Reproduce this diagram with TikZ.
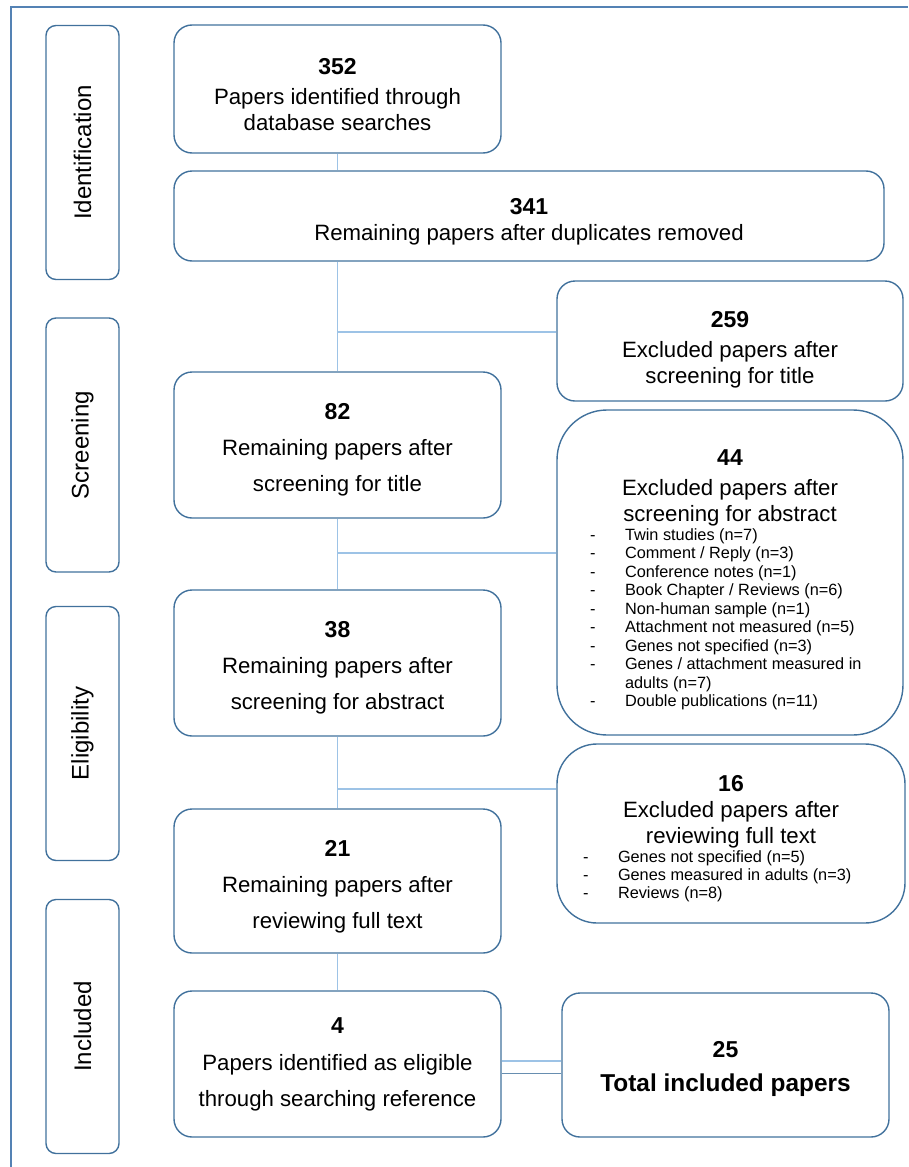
\documentclass[tikz,border=0pt]{standalone}
\usepackage{fontspec}
\setmainfont{Liberation Sans}
\usetikzlibrary{calc}
\definecolor{boxblue}{RGB}{65,113,156}
\definecolor{linkblue}{RGB}{157,195,230}
\definecolor{frameblue}{RGB}{84,130,180}
\newcommand\cnt[2][27pt]{{\rule{0pt}{#1}\fontsize{23}{26}\selectfont\bfseries #2}}
\newcommand\listfont{\fontsize{16.3}{18.45}\selectfont}

\begin{document}
\begin{tikzpicture}[x=1pt,y=-1pt,
    box/.style={rectangle,draw=boxblue,line width=1.4pt,rounded corners=18pt,
      align=center,inner sep=0pt,minimum width=327pt,
      font=\fontsize{22.2}{26}\selectfont},
    stage/.style={rectangle,draw=boxblue,line width=1.4pt,rounded corners=10pt,
      minimum width=73pt,minimum height=254pt,inner sep=0pt,
      font=\fontsize{24}{28}\selectfont},
    link/.style={draw=linkblue,line width=1.2pt}]

  \useasboundingbox (0,0) rectangle (908,1167);
  \draw[frameblue,line width=2pt] (11,1167) -- (11,7) -- (908,7);

  % stages
  \node[stage] (ident) at (82.5,152.5) {\rotatebox{90}{Identification}};
  \node[stage] (screen) at (82.5,445) {\rotatebox{90}{Screening}};
  \node[stage] (elig) at (82.5,733.5) {\rotatebox{90}{Eligibility}};
  \node[stage] (incl) at (82.5,1026.5) {\rotatebox{90}{Included}};

  % main column
  \node[box,minimum height=128pt] (352) at (337.5,89)
    {\cnt{352}\\[4pt]Papers identified through\\database searches};
  \node[box,minimum width=710pt,minimum height=90pt] (341) at (529,216)
    {\cnt{341}\\Remaining papers after duplicates removed};
  \node[box,minimum height=146pt] (82) at (337.5,445)
    {\cnt[25pt]{82}\\[10pt]Remaining papers after\\[10pt]screening for title};
  \node[box,minimum height=146pt] (38) at (337.5,663)
    {\cnt[25pt]{38}\\[10pt]Remaining papers after\\[10pt]screening for abstract};
  \node[box,minimum height=144pt] (21) at (337.5,881)
    {\cnt{21}\\[10pt]Remaining papers after\\[10pt]reviewing full text};
  \node[box,minimum height=146pt] (4) at (337.5,1064)
    {\cnt[16pt]{4}\\[11pt]Papers identified as eligible\\[10pt]through searching reference};

  % exclusions
  \node[box,minimum width=346pt,minimum height=120pt] (259) at (730,341)
    {\cnt[33pt]{259}\\[4pt]Excluded papers after\\screening for title};
  \node[box,minimum width=346pt,minimum height=325pt,rounded corners=50pt] (44) at (730,572.5)
    {\cnt[33pt]{44}\\[4pt]Excluded papers after\\screening for abstract\\
     {\listfont\begin{tabular}{@{}p{35pt}@{}p{245pt}@{}}
       - & Twin studies (n=7)\\
       - & Comment / Reply (n=3)\\
       - & Conference notes (n=1)\\
       - & Book Chapter / Reviews (n=6)\\
       - & Non-human sample (n=1)\\
       - & Attachment not measured (n=5)\\
       - & Genes not specified (n=3)\\
       - & Genes / attachment measured in\\
         & adults (n=7)\\
       - & Double publications (n=11)
     \end{tabular}}};
  \node[box,minimum width=348pt,minimum height=179pt,rounded corners=40pt] (16) at (731,833.5)
    {\cnt[29pt]{16}\\Excluded papers after\\reviewing full text\\
     {\listfont\begin{tabular}{@{}p{35pt}@{}p{261pt}@{}}
       - & Genes not specified (n=5)\\
       - & Genes measured in adults (n=3)\\
       - & Reviews (n=8)
     \end{tabular}}};
  \node[box,minimum height=144pt] (25) at (725.5,1065)
    {\cnt[25pt]{25}\\[8pt]{\fontsize{24.4}{28}\selectfont\bfseries Total included papers}};

  % links
  \coordinate (b259) at (338,332);
  \coordinate (b44) at (338,553);
  \coordinate (b16) at (338,789);
  \draw[link] (352.south) -- (352.south |- 341.north);
  \draw[link] (341.south -| 82.north) -- (82.north);
  \draw[link] (82.south) -- (38.north);
  \draw[link] (38.south) -- (21.north);
  \draw[link] (21.south) -- (4.north);
  \draw[link] (b259) -- (b259 -| 259.west);
  \draw[link] (b44) -- (b44 -| 44.west);
  \draw[link] (b16) -- (b16 -| 16.west);
  \draw[link] ([yshift=3pt]4.east) -- ([yshift=3pt]4.east -| 25.west);
  \draw[boxblue!80,line width=1pt] ([yshift=-9pt]4.east) -- ([yshift=-9pt]4.east -| 25.west);
\end{tikzpicture}
\end{document}
